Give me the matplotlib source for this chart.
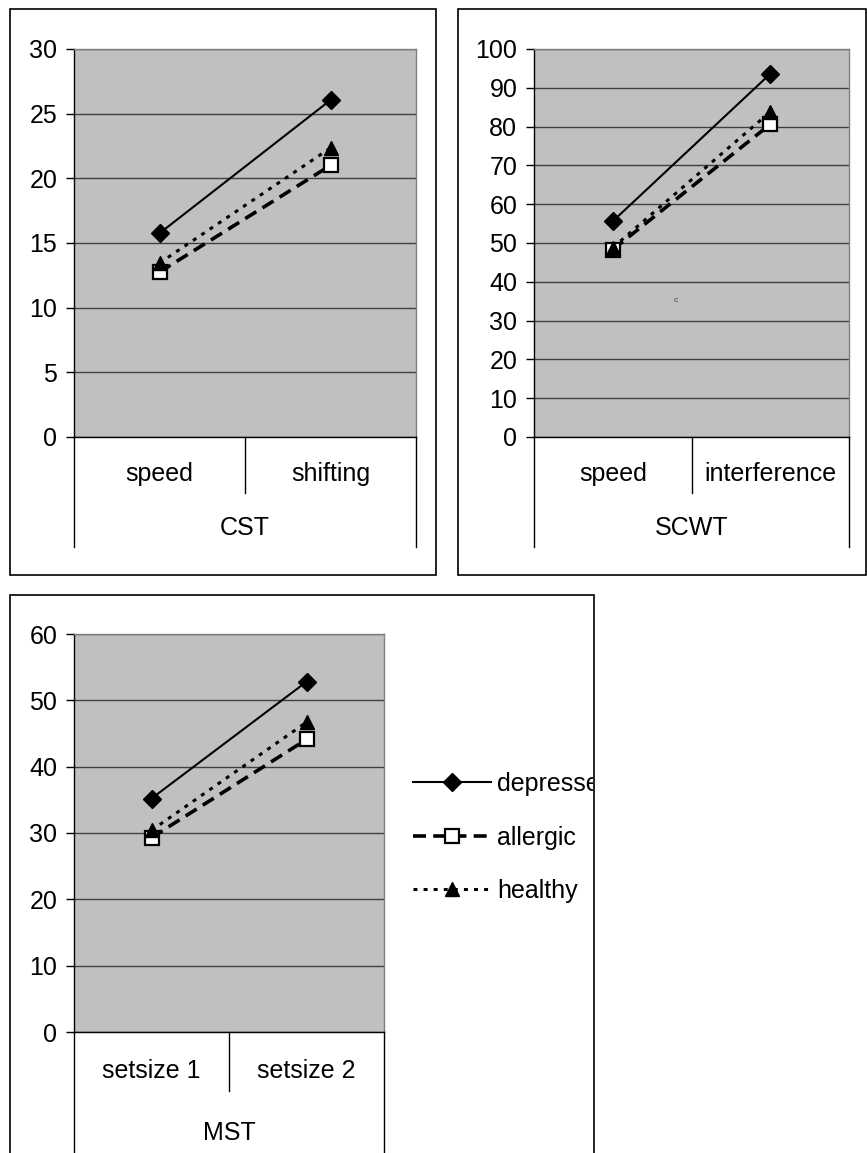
import matplotlib
matplotlib.use("Agg")
import matplotlib.pyplot as plt
from matplotlib.lines import Line2D
from matplotlib.patches import Rectangle

plt.rcParams['font.family'] = ['Liberation Sans', 'DejaVu Sans']

# ---------------- data ----------------
series_names = ["depressed", "allergic", "healthy"]

cst_categories = ["speed", "shifting"]
cst_depressed = [15.75, 26.05]
cst_allergic = [12.75, 21.0]
cst_healthy = [13.45, 22.35]

scwt_categories = ["speed", "interference"]
scwt_depressed = [55.6, 93.6]
scwt_allergic = [48.3, 80.6]
scwt_healthy = [48.8, 83.8]

mst_categories = ["setsize 1", "setsize 2"]
mst_depressed = [35.2, 52.8]
mst_allergic = [29.3, 44.1]
mst_healthy = [30.4, 46.7]

group_names = ["CST", "SCWT", "MST"]
y_max = [30, 100, 60]
y_step = [5, 10, 10]

# ---------------- layout ----------------
W, H = 867, 1153
DPI = 100
fig = plt.figure(figsize=(W / DPI, H / DPI), dpi=DPI)
FS = 18


def fx(px):
    return px / W


def fy(py):
    return 1 - py / H


def box(l, t, r, b):
    rect = Rectangle((fx(l), fy(b)), (r - l) / W, (b - t) / H,
                     transform=fig.transFigure, fill=False,
                     edgecolor='black', lw=1.2)
    fig.add_artist(rect)
    return rect


def vline(x, y0, y1):
    fig.add_artist(Line2D([fx(x), fx(x)], [fy(y0), fy(y1)],
                          transform=fig.transFigure, color='black', lw=1.0))


styles = [
    dict(color='black', lw=1.5, ls='-', marker='D', ms=9,
         mfc='black', mec='black'),
    dict(color='black', lw=2.6, ls=(0, (3.6, 2.0)), marker='s', ms=10,
         mfc='white', mec='black', mew=1.6),
    dict(color='black', lw=2.2, ls=(0, (1.3, 2.0)), marker='^', ms=10,
         mfc='black', mec='black'),
]


def panel(rect_px, cats, data, group, ymax, ystep,
          lab_y, sep_bot, outer_bot, grp_y):
    l, t, r, b = rect_px
    ax = fig.add_axes([fx(l), fy(b), (r - l) / W, (b - t) / H])
    ax.set_facecolor('#C0C0C0')
    xs = list(range(len(cats)))
    handles = []
    for vals, st, name in zip(data, styles, series_names):
        h, = ax.plot(xs, vals, label=name, zorder=3, clip_on=False, **st)
        handles.append(h)
    ax.set_xlim(-0.5, len(cats) - 0.5)
    ax.set_ylim(0, ymax)
    ax.set_yticks(list(range(0, ymax + 1, ystep)))
    ax.yaxis.grid(True, color='#404040', lw=1.0, zorder=0)
    ax.set_axisbelow(True)
    ax.set_xticks([])
    ax.tick_params(axis='y', direction='out', length=6, width=1,
                   labelsize=FS, pad=6, color='black')
    for s in ['top', 'right']:
        ax.spines[s].set_color('#808080')
        ax.spines[s].set_linewidth(1.0)
    ax.spines['left'].set_color('black')
    ax.spines['bottom'].set_color('black')
    for s in ['left', 'bottom']:
        ax.spines[s].set_linewidth(1.0)
    # category separators
    mid = (l + r) / 2
    vline(l, b, outer_bot)
    vline(r, b, outer_bot)
    vline(mid, b, sep_bot)
    tr = ax.get_xaxis_transform()
    hh = b - t
    for i, c in enumerate(cats):
        ax.text(i, -(lab_y - b) / hh, c, transform=tr, ha='center',
                va='center', fontsize=FS)
    ax.text(0.5, -(grp_y - b) / hh, group, transform=ax.transAxes,
            ha='center', va='center', fontsize=FS)
    return ax, handles


# panel frames
box(10, 9, 436, 575)
box(458, 9, 866, 575)
box3 = box(10, 595, 594, 1165)

panel((74, 49, 416, 437), cst_categories,
      [cst_depressed, cst_allergic, cst_healthy], group_names[0],
      y_max[0], y_step[0], 474, 493, 547, 528)

ax2, _ = panel((534, 49, 849, 437), scwt_categories,
               [scwt_depressed, scwt_allergic, scwt_healthy], group_names[1],
               y_max[1], y_step[1], 474, 493, 547, 528)
fig.text(fx(676), fy(301), "c", fontsize=6, color='#404040',
         ha='center', va='center')

ax3, handles = panel((74, 634, 384, 1032), mst_categories,
                     [mst_depressed, mst_allergic, mst_healthy], group_names[2],
                     y_max[2], y_step[2], 1071, 1091, 1160, 1133)

leg = fig.legend(handles=handles, labels=series_names,
                 loc='upper left', bbox_to_anchor=(fx(403), fy(762)),
                 bbox_transform=fig.transFigure, frameon=False,
                 fontsize=FS, handlelength=3.1, handletextpad=0.28,
                 labelspacing=1.18, numpoints=1, borderaxespad=0)

# the chart area clips its content at the frame edge
clip_rect = Rectangle((fx(10), fy(1165)), (593 - 10) / W, (1165 - 595) / H,
                      transform=fig.transFigure, visible=False)
fig.add_artist(clip_rect)
for txt in leg.get_texts():
    txt.set_clip_path(clip_rect)
    txt.set_clip_on(True)

fig.savefig("out.png", dpi=DPI)
